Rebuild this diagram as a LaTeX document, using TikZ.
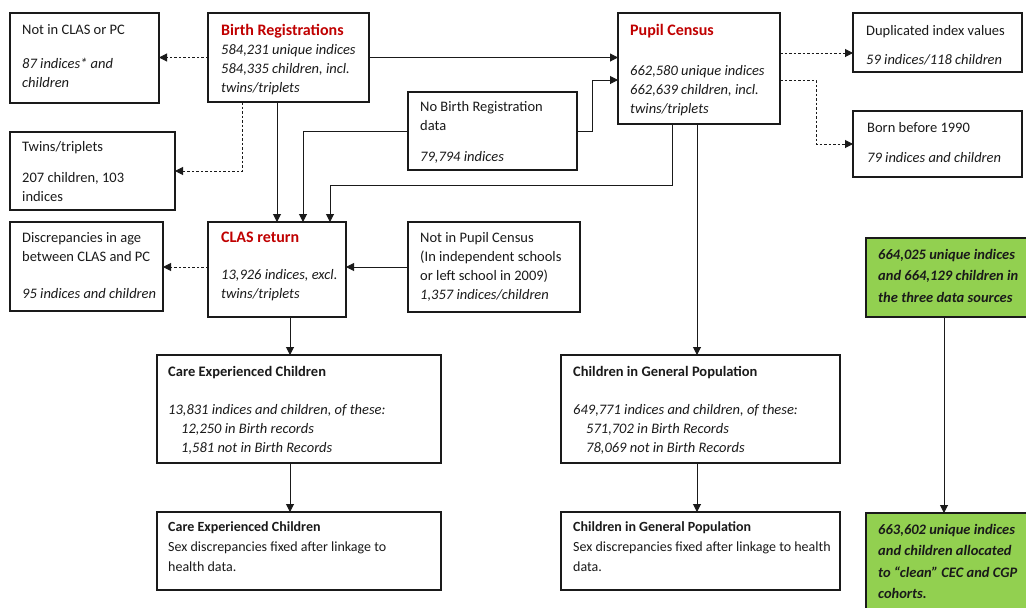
\documentclass[tikz,border=0pt]{standalone}
\usepackage{fontspec}
\setmainfont{Carlito}
\usetikzlibrary{arrows.meta,calc}
\definecolor{hdred}{HTML}{C00000}
\definecolor{grn}{HTML}{92D050}
\definecolor{ln}{HTML}{1A1A1A}
\newcommand\mkbox[6]{\node[#6, minimum width=#4pt, minimum height=#5pt] (#1) at (#2,#3) {};}
\newcommand\hdr[1]{\textcolor{hdred}{\fontsize{16}{19}\selectfont\bfseries #1}}
\begin{document}
\begin{tikzpicture}[x=1pt,y=-1pt,
 bx/.style={draw=ln, line width=1.1pt, inner sep=0pt, outer sep=0pt, anchor=north west, fill=white},
 gbx/.style={bx, fill=grn},
 tx/.style={anchor=north west, inner sep=0pt, align=left, font=\fontsize{14.5}{19}\selectfont, text=ln, execute at begin node={\rule{0pt}{11pt}}},
 stx/.style={tx, font=\fontsize{14}{20}\selectfont},
 gtx/.style={tx, font=\fontsize{14.5}{21.5}\selectfont\bfseries\itshape},
 arr/.style={draw=ln, line width=1pt, -{Triangle[length=8pt,width=8pt]}},
 darr/.style={arr, dash pattern=on 2.5pt off 2pt},
]
\useasboundingbox (0,0) rectangle (1026,608);
% boxes
\mkbox{notclas}{10}{13}{149}{90}{bx}
\mkbox{birth}{208}{13}{161}{89}{bx}
\mkbox{twins}{10}{132}{165}{78}{bx}
\mkbox{nobirth}{408}{92}{169}{78}{bx}
\mkbox{pupil}{618}{13}{162}{111}{bx}
\mkbox{dup}{853}{13}{169}{59}{bx}
\mkbox{born}{853}{111}{169}{66}{bx}
\mkbox{discrep}{10}{222}{153}{89}{bx}
\mkbox{clas}{208}{222}{138}{95}{bx}
\mkbox{notpc}{408}{222}{172}{90}{bx}
\mkbox{cec}{157}{355}{284}{108}{bx}
\mkbox{cgp}{561}{355}{279}{108}{bx}
\mkbox{green1}{866}{238}{165}{79}{gbx}
\mkbox{cectwo}{157}{512}{284}{78}{bx}
\mkbox{cgptwo}{561}{512}{279}{78}{bx}
\mkbox{green2}{866}{513}{165}{100}{gbx}
% texts (anchor y = first baseline - 11)
\node[tx] (t-notclas) at (22,24) {Not in CLAS or PC\\[15pt]\itshape 87 indices* and\\\itshape children};
\node[tx] (t-birth) at (221,24) {\hdr{Birth Registrations}\\\itshape 584,231 unique indices\\\itshape 584,335 children, incl.\\\itshape twins/triplets};
\node[tx] (t-twins) at (22,141) {Twins/triplets\\[12pt]207 children, 103\\indices};
\node[tx] (t-nobirth) at (420,101) {No Birth Registration\\data\\[12pt]\itshape 79,794 indices};
\node[tx] (t-pupil) at (630,24) {\hdr{Pupil Census}\\[21pt]\itshape 662,580 unique indices\\\itshape 662,639 children, incl.\\\itshape twins/triplets};
\node[tx] (t-dup) at (866,25) {Duplicated index values\\[10pt]\itshape 59 indices/118 children};
\node[tx] (t-born) at (867,122) {Born before 1990\\[11pt]\itshape 79 indices and children};
\node[tx] (t-discrep) at (22,232) {Discrepancies in age\\between CLAS and PC\\[18pt]\itshape 95 indices and children};
\node[tx] (t-clas) at (221,232) {\hdr{CLAS return}\\[18pt]\itshape 13,926 indices, excl.\\\itshape twins/triplets};
\node[tx] (t-notpc) at (420,232) {Not in Pupil Census\\(In independent schools\\or left school in 2009)\\\itshape 1,357 indices/children};
\node[tx] (t-cec) at (168,366) {\bfseries Care Experienced Children\\[19pt]\itshape 13,831 indices and children, of these:\\\hspace*{13pt}\itshape 12,250 in Birth records\\\hspace*{13pt}\itshape 1,581 not in Birth Records};
\node[tx] (t-cgp) at (573,366) {\bfseries Children in General Population\\[19pt]\itshape 649,771 indices and children, of these:\\\hspace*{13pt}\itshape 571,702 in Birth Records\\\hspace*{13pt}\itshape 78,069 not in Birth Records};
\node[gtx] (t-green1) at (878,249) {664,025 unique indices\\and 664,129 children in\\the three data sources};
\node[gtx] (t-green2) at (878,524) {663,602 unique indices\\and children allocated\\to “clean” CEC and CGP\\cohorts.};
\node[stx] (t-cectwo) at (168,521) {\bfseries Care Experienced Children\\Sex discrepancies fixed after linkage to\\health data.};
\node[stx] (t-cgptwo) at (573,521) {\bfseries Children in General Population\\Sex discrepancies fixed after linkage to health\\data.};
% helper coordinates
\coordinate (xa) at (242,0);
\coordinate (xb) at (277,0);
\coordinate (xc) at (303,0);
\coordinate (xd) at (330,0);
\coordinate (xe) at (672,0);
\coordinate (xf) at (697,0);
\coordinate (xg) at (290,0);
\coordinate (xh) at (944,0);
\coordinate (ya) at (0,80);
\coordinate (yb) at (0,53);
\coordinate (yc) at (0,185);
\coordinate (pd) at (592,131);
\coordinate (pe) at (816,80);
% connectors
\draw[arr] (birth.east) -- (birth.east -| pupil.west);
\draw[darr] (birth.west) -- (birth.west -| notclas.east);
\draw[darr] (birth.south -| xa) |- (twins.east);
\draw[arr] (birth.south -| xb) -- (clas.north -| xb);
\draw[arr] (nobirth.west) -| (clas.north -| xc);
\draw[arr] (nobirth.east) -- (pd) |- (pupil.west |- ya);
\draw[arr] (pupil.south -| xe) |- (yc -| xd) -- (clas.north -| xd);
\draw[arr] (pupil.south -| xf) -- (cgp.north -| xf);
\draw[darr] (pupil.east |- yb) -- (dup.west |- yb);
\draw[darr] (pupil.east |- ya) -- (pe) |- (born.west);
\draw[arr] (notpc.west) -- (clas.east |- notpc.west);
\draw[darr] (clas.west |- notpc.west) -- (discrep.east |- notpc.west);
\draw[arr] (clas.south -| xg) -- (cec.north -| xg);
\draw[arr] (cec.south -| xg) -- (cectwo.north -| xg);
\draw[arr] (cgp.south -| xf) -- (cgptwo.north -| xf);
\draw[arr] (green1.south -| xh) -- (green2.north -| xh);
\end{tikzpicture}
\end{document}
